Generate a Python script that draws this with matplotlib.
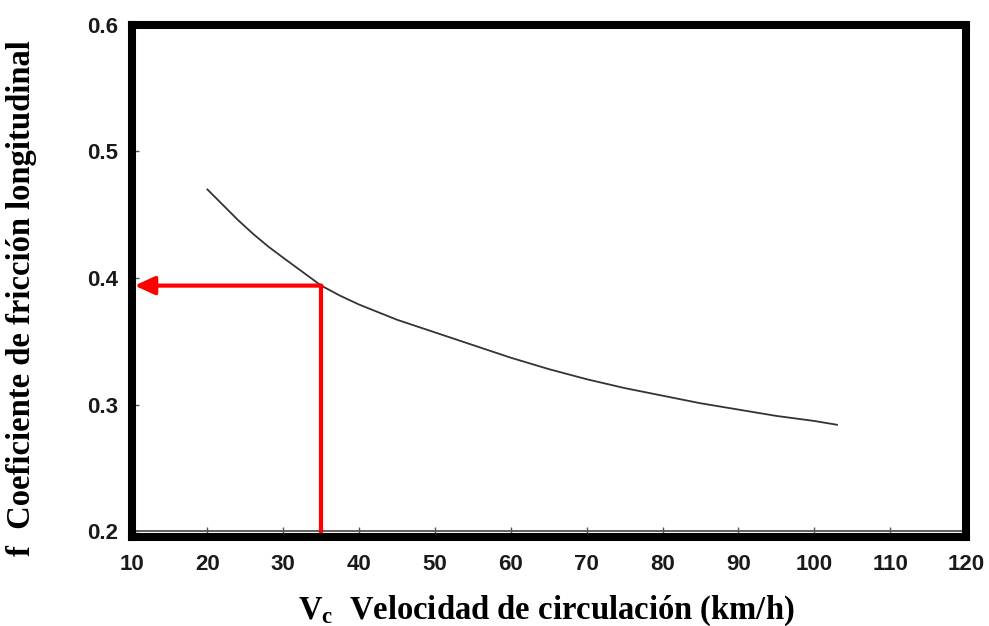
import matplotlib
matplotlib.use('Agg')
import matplotlib.pyplot as plt

# curve: friction coefficient vs speed
speed = [20, 22, 24, 26, 28, 30, 32.5, 35, 37.5, 40, 42.5, 45, 47.5, 50,
         55, 60, 65, 70, 75, 80, 85, 90, 95, 100, 103]
friction = [0.470, 0.458, 0.446, 0.435, 0.425, 0.416, 0.405, 0.394, 0.386,
            0.379, 0.373, 0.367, 0.362, 0.357, 0.347, 0.337, 0.328, 0.320,
            0.313, 0.307, 0.301, 0.296, 0.291, 0.287, 0.284]

# the red reading: design speed and the coefficient it gives
v_design = 35
f_design = 0.394

xticks = [10, 20, 30, 40, 50, 60, 70, 80, 90, 100, 110, 120]
yticks = [0.2, 0.3, 0.4, 0.5, 0.6]

plt.rcParams['mathtext.fontset'] = 'custom'
plt.rcParams['mathtext.bf'] = 'Liberation Serif:bold'
plt.rcParams['mathtext.rm'] = 'Liberation Serif'

fig = plt.figure(figsize=(9.89, 6.26), dpi=100)
ax = fig.add_axes((0.133, 0.1422, 0.8437, 0.8179))

ax.set_xlim(10, 120)
ax.set_ylim(0.1953, 0.6)

ax.axhline(0.2, color='#444444', lw=1.2, zorder=1)
ax.plot(speed, friction, '-', color='#333333', lw=1.3)

# red lookup lines
ax.plot([v_design, v_design], [0.2, f_design], '-', color='#ff0000', lw=3,
        solid_capstyle='projecting', zorder=3)
ax.annotate('', xy=(10.4, f_design), xytext=(v_design, f_design),
            arrowprops=dict(arrowstyle='-|>,head_length=1.2,head_width=0.55',
                            color='#ff0000', lw=3, mutation_scale=10,
                            shrinkA=0, shrinkB=0),
            zorder=3)

for sp in ax.spines.values():
    sp.set_linewidth(5.8)
    sp.set_color('black')
    sp.set_zorder(4)

ax.set_xticks(xticks)
ax.set_yticks(yticks)
ax.set_yticklabels(['0.2', '0.3', '0.4', '0.5', '0.6'])
ax.tick_params(axis='x', direction='in', length=7, width=1, color='#555555',
               pad=12, labelsize=16)
ax.tick_params(axis='y', direction='in', length=5, width=1, color='#555555',
               pad=10, labelsize=16)
for lab in ax.get_xticklabels() + ax.get_yticklabels():
    lab.set_fontfamily('Liberation Sans')
    lab.set_fontweight('bold')
    lab.set_color('#1a1a1a')

ax.set_xlabel(r'$\mathbf{V_c}$  Velocidad de circulación (km/h)',
              fontfamily='Liberation Serif', fontweight='bold', fontsize=23.5)
ax.set_ylabel('f  Coeficiente de fricción longitudinal',
              fontfamily='Liberation Serif', fontweight='bold', fontsize=23.5)
ax.xaxis.set_label_coords(0.4967, -0.11)
ax.yaxis.set_label_coords(-0.113, 0.467)

plt.savefig('out.png', dpi=100)
